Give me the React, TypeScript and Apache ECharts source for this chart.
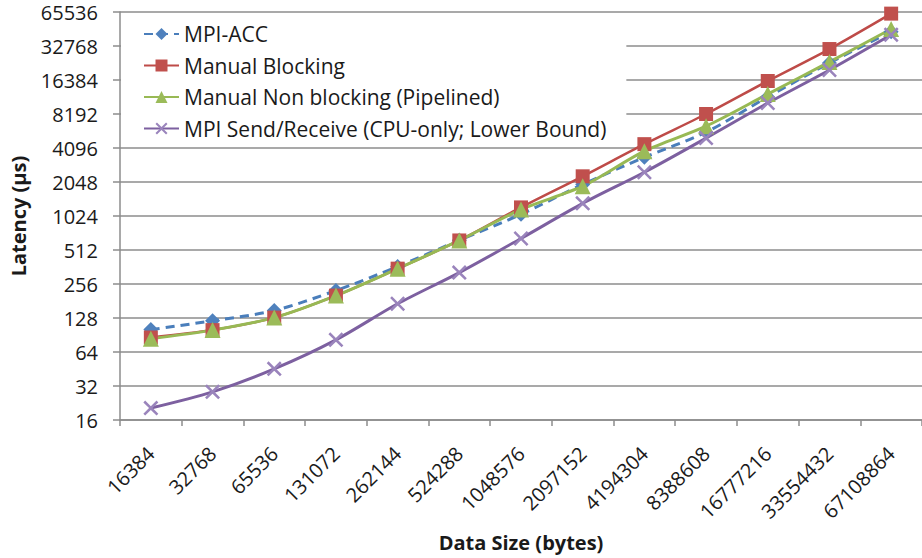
import React, { useEffect, useRef } from "react";
import * as echarts from "echarts";

const categories = [
  "16384", "32768", "65536", "131072", "262144", "524288", "1048576",
  "2097152", "4194304", "8388608", "16777216", "33554432", "67108864",
];

const seriesNames = [
  "MPI-ACC",
  "Manual Blocking",
  "Manual Non blocking (Pipelined)",
  "MPI Send/Receive (CPU-only; Lower Bound)",
];

const mpiAcc = [101, 121, 149, 224, 365, 625, 1060, 1950, 3390, 5660, 11600, 23200, 43800];
const manualBlocking = [86, 100, 129, 202, 350, 622, 1220, 2300, 4430, 8192, 16050, 30800, 63400];
const manualNonBlocking = [84, 100, 129, 202, 350, 622, 1170, 1880, 3840, 6390, 12300, 23700, 46300];
const mpiSendRecv = [20.4, 28.4, 45.4, 82, 171, 323, 648, 1325, 2500, 5010, 10240, 20100, 41200];

const yMin = 16;
const yMax = 65536;

const FONT = "Open Sans";
const CROSS =
  "path://M0,1.2L1.2,0L5,3.8L8.8,0L10,1.2L6.2,5L10,8.8L8.8,10L5,6.2L1.2,10L0,8.8L3.8,5Z";

export default function App() {
  const ref = useRef<HTMLDivElement>(null);

  useEffect(() => {
    if (!ref.current) return;
    const chart = echarts.init(ref.current, undefined, { renderer: "svg" });
    const axisGray = "#8c8c8c";
    chart.setOption({
      animation: false,
      backgroundColor: "#ffffff",
      textStyle: { fontFamily: FONT },
      grid: { left: 120, right: -11, top: 12, bottom: 138, containLabel: false },
      legend: {
        orient: "vertical",
        left: 121,
        top: 13,
        backgroundColor: "#ffffff",
        padding: [9, 20, 6, 22],
        itemWidth: 35,
        itemHeight: 15,
        itemGap: 7.5,
        textStyle: { fontFamily: FONT, fontSize: 21, color: "#1a1a1a", lineHeight: 24 },
        data: seriesNames,
      },
      xAxis: {
        type: "category",
        data: categories,
        boundaryGap: true,
        axisLine: { lineStyle: { color: axisGray, width: 1.5 } },
        axisTick: { show: true, length: 6, inside: false, alignWithLabel: false, lineStyle: { color: axisGray, width: 1.5 } },
        axisLabel: {
          rotate: 45,
          interval: 0,
          margin: 30,
          fontFamily: FONT,
          fontSize: 20,
          color: "#1a1a1a",
        },
        splitLine: { show: false },
        name: "Data Size (bytes)",
        nameLocation: "middle",
        nameGap: 112,
        nameTextStyle: { fontFamily: FONT, fontSize: 20, fontWeight: "bold", color: "#1a1a1a" },
      },
      yAxis: {
        type: "log",
        logBase: 2,
        min: yMin,
        max: yMax,
        interval: 1,
        axisLine: { show: true, lineStyle: { color: axisGray, width: 1.5 } },
        axisTick: { show: true, length: 7, inside: false, lineStyle: { color: axisGray, width: 1.5 } },
        axisLabel: {
          margin: 22,
          fontFamily: FONT,
          fontSize: 20,
          color: "#1a1a1a",
          formatter: (v: number) => String(Math.round(v)),
        },
        splitLine: { show: true, lineStyle: { color: axisGray, width: 1.5 } },
        name: "Latency (µs)",
        nameLocation: "middle",
        nameGap: 92,
        nameRotate: 90,
        nameTextStyle: { fontFamily: FONT, fontSize: 20, fontWeight: "bold", color: "#1a1a1a" },
      },
      series: [
        {
          name: seriesNames[0],
          type: "line",
          data: mpiAcc,
          smooth: 0.3,
          symbol: "diamond",
          symbolSize: 15,
          lineStyle: { color: "#4A7EBB", width: 3, type: [9, 6] },
          itemStyle: { color: "#4F81BD" },
        },
        {
          name: seriesNames[1],
          type: "line",
          data: manualBlocking,
          smooth: 0.3,
          symbol: "rect",
          symbolSize: 14,
          lineStyle: { color: "#BE4B48", width: 2.5 },
          itemStyle: { color: "#C0504D" },
        },
        {
          name: seriesNames[2],
          type: "line",
          data: manualNonBlocking,
          smooth: 0.3,
          symbol: "triangle",
          symbolSize: 16,
          lineStyle: { color: "#98B954", width: 3 },
          itemStyle: { color: "#9BBB59" },
        },
        {
          name: seriesNames[3],
          type: "line",
          data: mpiSendRecv,
          smooth: 0.3,
          symbol: CROSS,
          symbolSize: 15,
          lineStyle: { color: "#7D60A0", width: 3 },
          itemStyle: { color: "#9A84BC" },
        },
      ],
    });
    return () => chart.dispose();
  }, []);

  return (
    <div
      ref={ref}
      style={{ position: "absolute", left: 0, top: 0, width: 922, height: 558 }}
    />
  );
}
